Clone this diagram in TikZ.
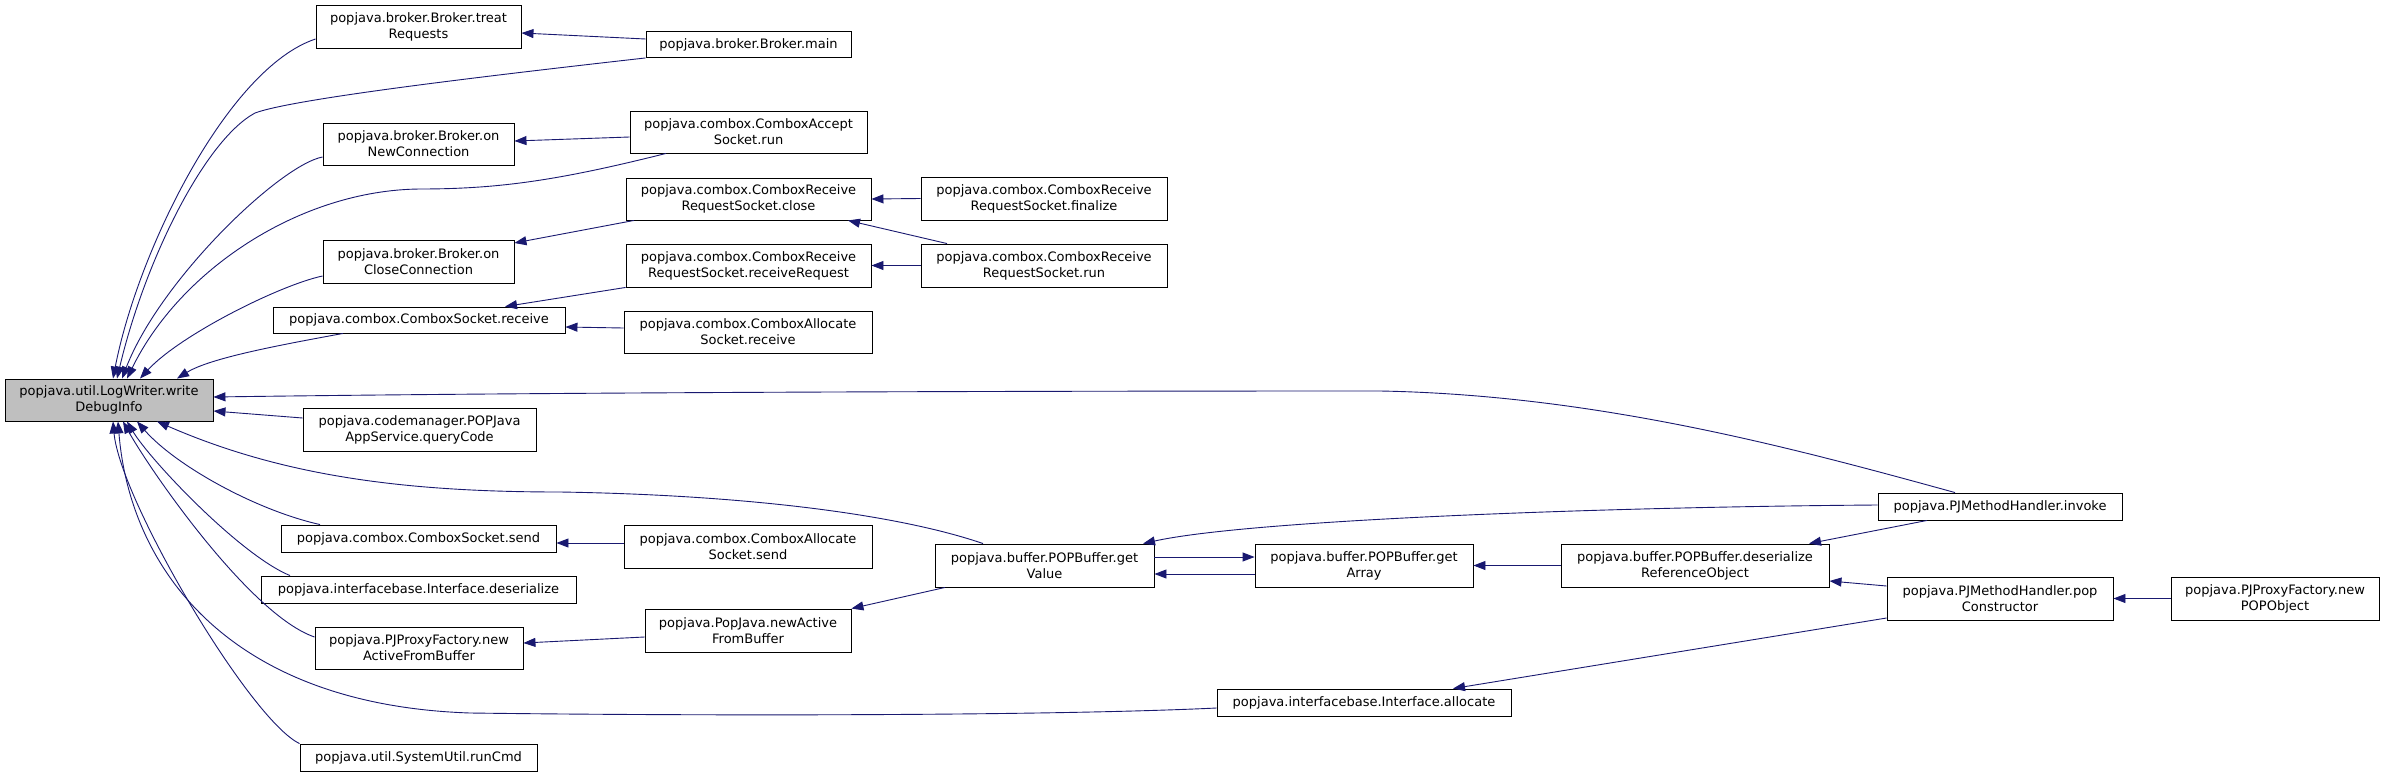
\documentclass[tikz,border=0pt]{standalone}
\usepackage{fontspec}
\setmainfont{DejaVu Sans}
\usetikzlibrary{arrows.meta}
\definecolor{navyline}{RGB}{25,25,112}
\definecolor{lwgray}{RGB}{191,191,191}
\tikzset{
  fn/.style={draw=black, line width=0.9pt, fill=white, inner sep=0pt, align=center,
    font=\fontsize{13}{16}\selectfont},
  cur/.style={fn, fill=lwgray},
  edge/.style={draw=navyline, line width=0.9pt, -{Triangle[length=12pt,width=9pt]}},
}
\begin{document}
\begin{tikzpicture}[x=1pt,y=-1pt]
\useasboundingbox (0,0) rectangle (2384,776);
\fill[white] (0,0) rectangle (2384,776);
% nodes
\node[cur, minimum width=208pt, minimum height=42pt] (lw) at (109,400) {popjava.util.LogWriter.write\\DebugInfo};
\node[fn, minimum width=205pt, minimum height=43pt] (treat) at (418.5,26.5) {popjava.broker.Broker.treat\\Requests};
\node[fn, minimum width=205pt, minimum height=26pt] (main) at (748.5,44.5) {popjava.broker.Broker.main};
\node[fn, minimum width=191pt, minimum height=42pt] (onNew) at (418.5,144) {popjava.broker.Broker.on\\NewConnection};
\node[fn, minimum width=237pt, minimum height=42pt] (accept) at (748.5,132) {popjava.combox.ComboxAccept\\Socket.run};
\node[fn, minimum width=245pt, minimum height=42pt] (close) at (748.5,199) {popjava.combox.ComboxReceive\\RequestSocket.close};
\node[fn, minimum width=191pt, minimum height=43pt] (onClose) at (418.5,261.5) {popjava.broker.Broker.on\\CloseConnection};
\node[fn, minimum width=245pt, minimum height=43pt] (recvReq) at (748.5,265.5) {popjava.combox.ComboxReceive\\RequestSocket.receiveRequest};
\node[fn, minimum width=292pt, minimum height=26pt] (recv) at (419,320) {popjava.combox.ComboxSocket.receive};
\node[fn, minimum width=248pt, minimum height=42pt] (allocRecv) at (748,332) {popjava.combox.ComboxAllocate\\Socket.receive};
\node[fn, minimum width=246pt, minimum height=43pt] (finalize) at (1044,198.5) {popjava.combox.ComboxReceive\\RequestSocket.finalize};
\node[fn, minimum width=246pt, minimum height=43pt] (rrsRun) at (1044,265.5) {popjava.combox.ComboxReceive\\RequestSocket.run};
\node[fn, minimum width=233pt, minimum height=43pt] (query) at (419.5,429.5) {popjava.codemanager.POPJava\\AppService.queryCode};
\node[fn, minimum width=275pt, minimum height=27pt] (send) at (418.5,538.5) {popjava.combox.ComboxSocket.send};
\node[fn, minimum width=248pt, minimum height=43pt] (allocSend) at (748,546.5) {popjava.combox.ComboxAllocate\\Socket.send};
\node[fn, minimum width=315pt, minimum height=27pt] (deser) at (418.5,589.5) {popjava.interfacebase.Interface.deserialize};
\node[fn, minimum width=208pt, minimum height=42pt] (pjNew) at (419,648) {popjava.PJProxyFactory.new\\ActiveFromBuffer};
\node[fn, minimum width=206pt, minimum height=43pt] (popNew) at (748,630.5) {popjava.PopJava.newActive\\FromBuffer};
\node[fn, minimum width=237pt, minimum height=27pt] (runCmd) at (418.5,757.5) {popjava.util.SystemUtil.runCmd};
\node[fn, minimum width=219pt, minimum height=43pt] (getValue) at (1044.5,565.5) {popjava.buffer.POPBuffer.get\\Value};
\node[fn, minimum width=218pt, minimum height=43pt] (getArray) at (1364,565.5) {popjava.buffer.POPBuffer.get\\Array};
\node[fn, minimum width=294pt, minimum height=27pt] (allocate) at (1364,702.5) {popjava.interfacebase.Interface.allocate};
\node[fn, minimum width=244pt, minimum height=27pt] (invoke) at (2000,506.5) {popjava.PJMethodHandler.invoke};
\node[fn, minimum width=268pt, minimum height=43pt] (deserRef) at (1695,565.5) {popjava.buffer.POPBuffer.deserialize\\ReferenceObject};
\node[fn, minimum width=226pt, minimum height=43pt] (popCons) at (2000,598.5) {popjava.PJMethodHandler.pop\\Constructor};
\node[fn, minimum width=208pt, minimum height=43pt] (newPOP) at (2275,598.5) {popjava.PJProxyFactory.new\\POPObject};
% edges into LogWriter (top)
\draw[edge] (treat.west |- 0,39) .. controls (228,68) and (138,250) .. (lw.north -| 113,0);
\draw[edge] (main.south west) .. controls (450,80) and (290,100) .. (255,113) .. controls (205,140) and (145,260) .. (lw.north -| 117,0);
\draw[edge] (onNew.west |- 0,157) .. controls (280,165) and (160,280) .. (lw.north -| 122,0);
\draw[edge] (accept.south -| 666,0) .. controls (560,180) and (500,189) .. (420,189) .. controls (300,190) and (180,270) .. (lw.north -| 127,0);
\draw[edge] (onClose.west |- 0,276) .. controls (280,285) and (180,335) .. (lw.north -| 140,0);
\draw[edge] (recv.south -| 343,0) .. controls (280,345) and (210,358) .. (lw.north -| 177,0);
% edges into LogWriter (right / bottom)
\draw[edge] (query.west |- 0,418) -- (lw.east |- 0,411);
\draw[edge] (invoke.north -| 1955,0) .. controls (1800,450) and (1600,395) .. (1380,391) .. controls (900,391) and (500,393) .. (lw.east |- 0,397);
\draw[edge] (getValue.north -| 983,0) .. controls (900,515) and (750,495) .. (560,492) .. controls (400,492) and (280,475) .. (lw.south -| 157,0);
\draw[edge] (send.north -| 320,0) .. controls (255,510) and (175,465) .. (lw.south -| 137,0);
\draw[edge] (deser.north -| 290,0) .. controls (240,555) and (150,460) .. (lw.south -| 127,0);
\draw[edge] (pjNew.west |- 0,637) .. controls (250,615) and (150,470) .. (lw.south -| 123,0);
\draw[edge] (allocate.west |- 0,708) .. controls (1050,716) and (700,716) .. (470,713) .. controls (230,705) and (130,570) .. (lw.south -| 118,0);
\draw[edge] (runCmd.north west) .. controls (250,720) and (120,500) .. (lw.south -| 113,0);
% other edges
\draw[edge] (main.west |- 0,39) -- (treat.east |- 0,33);
\draw[edge] (accept.west |- 0,137) -- (onNew.east |- 0,141);
\draw[edge] (close.south -| 634,0) -- (onClose.east |- 0,243);
\draw[edge] (finalize.west) -- (close.east);
\draw[edge] (rrsRun.north -| 947,0) -- (close.south -| 848,0);
\draw[edge] (rrsRun.west) -- (recvReq.east);
\draw[edge] (recvReq.south west) -- (recv.north -| 505,0);
\draw[edge] (allocRecv.west |- 0,328) -- (recv.east |- 0,327);
\draw[edge] (allocSend.west |- 0,543) -- (send.east |- 0,543);
\draw[edge] (popNew.west |- 0,637) -- (pjNew.east |- 0,643);
\draw[edge] (getValue.south -| 945,0) -- (popNew.north east);
\draw[edge] (getValue.east |- 0,557) -- (getArray.west |- 0,557);
\draw[edge] (getArray.west |- 0,574) -- (getValue.east |- 0,574);
\draw[edge] (deserRef.west) -- (getArray.east);
\draw[edge] (invoke.west |- 0,505) .. controls (1600,507) and (1250,520) .. (getValue.north -| 1143,0);
\draw[edge] (invoke.south -| 1927,0) -- (deserRef.north -| 1809,0);
\draw[edge] (popCons.west |- 0,586) -- (deserRef.east |- 0,581);
\draw[edge] (popCons.west |- 0,618) -- (allocate.north -| 1453,0);
\draw[edge] (newPOP.west) -- (popCons.east);
\end{tikzpicture}
\end{document}
